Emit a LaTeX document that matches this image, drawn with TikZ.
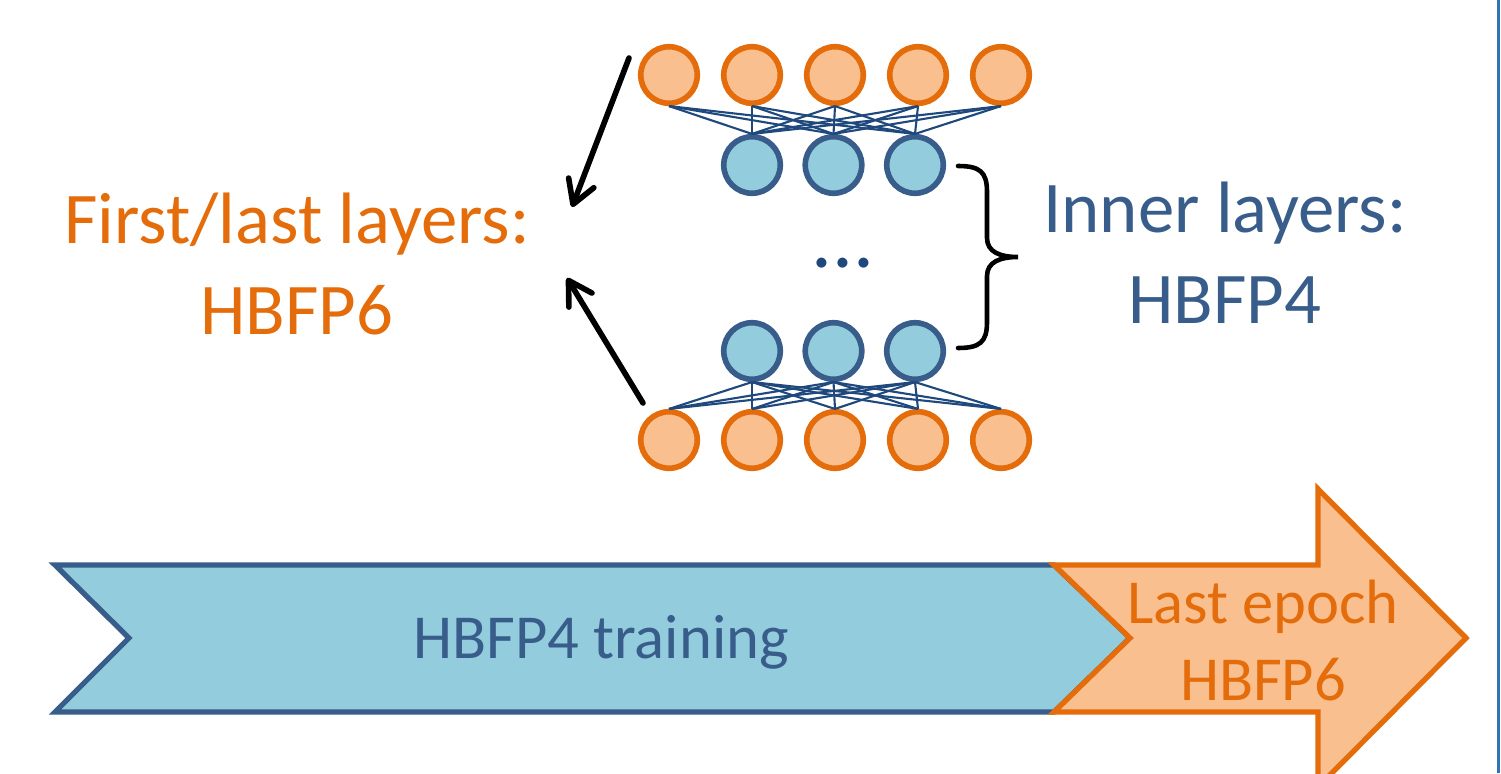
\documentclass[tikz,border=0pt]{standalone}
\usepackage{fontspec}
\setmainfont{Carlito}
\usepackage{tikz}
\usetikzlibrary{arrows.meta,calc}
\definecolor{orange}{RGB}{228,108,10}
\definecolor{lightorange}{RGB}{249,191,143}
\definecolor{blue}{RGB}{56,93,138}
\definecolor{lightblue}{RGB}{147,204,221}
\definecolor{navy}{RGB}{31,73,125}
\definecolor{frame}{RGB}{46,117,182}

\begin{document}
\begin{tikzpicture}[x=0.01cm,y=-0.01cm,
	outer/.style={circle,draw=orange,fill=lightorange,line width=1.6pt,minimum size=0.565cm,inner sep=0pt},
	inner/.style={circle,draw=blue,fill=lightblue,line width=1.6pt,minimum size=0.565cm,inner sep=0pt},
	wire/.style={navy,line width=0.6pt},
	pointer/.style={-{Straight Barb[length=0.23cm,width=0.27cm,round]},line width=1.6pt,line cap=round},
	curly/.style={line width=1.3pt,line cap=round},
	biglabel/.style={font=\fontsize{20.7}{25.9}\selectfont,align=center,inner sep=0pt},
	smalllabel/.style={font=\fontsize{17.8}{21.9}\selectfont,align=center,inner sep=0pt}]
	\useasboundingbox (0,0) rectangle (1501,773);
	\clip (0,0) rectangle (1501,773);
	% layers of the network
	\foreach \i in {1,...,5} {
		\node[outer] (t\i) at ({669+83*(\i-1)},75) {};
		\node[outer] (b\i) at ({669+83*(\i-1)},440) {};
	}
	\foreach \j in {1,2,3} {
		\node[inner] (u\j) at ({752+81.5*(\j-1)},165) {};
		\node[inner] (d\j) at ({752+81.5*(\j-1)},351) {};
	}
	\foreach \i in {1,...,5} \foreach \j in {1,2,3} {
		\draw[wire] (t\i.south) -- (u\j.north);
		\draw[wire] (d\j.south) -- (b\i.north);
	}
	\node[anchor=base,text=navy,font=\fontsize{23.6}{24}\selectfont,inner sep=0pt] (dots) at (843,267) {...};
	% labels
	\node[biglabel,text=orange] (outerlbl) at (297,264) {First/last layers:\\HBFP6};
	\node[biglabel,text=blue] (innerlbl) at (1225,253) {Inner layers:\\HBFP4};
	\coordinate (p1) at (629,58);
	\coordinate (q1) at (572,207);
	\coordinate (p2) at (643,403);
	\coordinate (q2) at (567,278);
	\draw[pointer] (p1) -- (q1);
	\draw[pointer] (p2) -- (q2);
	\draw[curly] (958,166) .. controls (980,166) and (987,172) .. (987,192) -- (987,238)
		.. controls (987,252) and (1000,257) .. (1018,257)
		.. controls (1000,257) and (987,262) .. (987,276) -- (987,322)
		.. controls (987,342) and (980,348) .. (958,348);
	% training schedule
	\draw[blue,fill=lightblue,line width=1.5pt] (55,565) -- (1054,565) -- (1130,638) -- (1054,712) -- (55,712) -- (129,638) -- cycle;
	\draw[orange,fill=lightorange,line width=1.5pt] (1054,565) -- (1318,565) -- (1318,489) -- (1466,638) -- (1318,787) -- (1318,712) -- (1054,712) -- (1130,638) -- cycle;
	\node[smalllabel,text=blue,anchor=base] (train) at (601,658) {HBFP4 training};
	\node[smalllabel,text=orange] (last) at (1263,640) {Last epoch\\HBFP6};
	\draw[frame,line width=0.9pt] (1498.5,0) -- (1498.5,773);
\end{tikzpicture}
\end{document}
